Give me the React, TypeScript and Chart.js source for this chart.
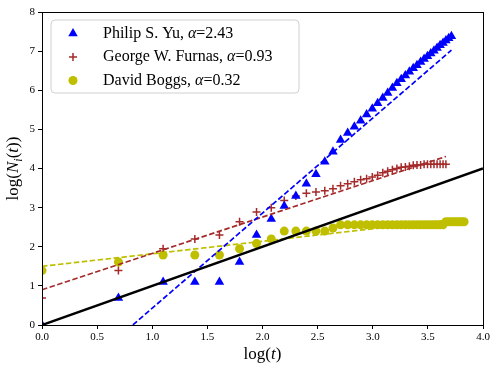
import React, { useEffect, useRef } from "react";
import { Chart, registerables } from "chart.js";
Chart.register(...registerables);

// ---- data ----
const yuT = [1,2,3,4,5,6,7,8,9,10,11,12,13,14,15,16,17,18,19,20,21,22,23,24,25,26,27,28,29,30,31,32,33,34,35,36,37,38,39,40,41];
const yuLogN = [0,0.69,1.10,1.10,1.10,1.61,2.30,2.71,3.04,3.30,3.61,3.85,4.17,4.43,4.73,4.91,5.07,5.22,5.38,5.53,5.67,5.80,5.93,6.06,6.18,6.28,6.38,6.47,6.56,6.64,6.72,6.80,6.87,6.94,7.01,7.08,7.15,7.21,7.27,7.33,7.38];

const furnasT = [1,2,3,4,5,6,7,8,9,10,11,12,13,14,15,16,17,18,19,20,21,22,23,24,25,26,27,28,29,30,31,32,33,34,35,36,37,38,39];
const furnasLogN = [0.69,1.39,1.95,2.20,2.30,2.64,2.89,3.00,3.18,3.30,3.37,3.40,3.43,3.48,3.56,3.61,3.66,3.71,3.74,3.78,3.83,3.89,3.93,3.97,4.00,4.03,4.04,4.06,4.08,4.09,4.09,4.11,4.11,4.11,4.11,4.11,4.11,4.11,4.11];

const boggsT = [1,2,3,4,5,6,7,8,9,10,11,12,13,14,15,16,17,18,19,20,21,22,23,24,25,26,27,28,29,30,31,32,33,34,35,36,37,38,39,40,41,42,43,44,45,46];
const boggsLogN = [1.39,1.61,1.79,1.79,1.79,1.95,2.08,2.20,2.40,2.40,2.40,2.40,2.40,2.48,2.56,2.56,2.56,2.56,2.56,2.56,2.56,2.56,2.56,2.56,2.56,2.56,2.56,2.56,2.56,2.56,2.56,2.56,2.56,2.56,2.56,2.56,2.56,2.56,2.64,2.64,2.64,2.64,2.64,2.64,2.64,2.64];

const seriesNames = ["Philip S. Yu, ", "George W. Furnas, ", "David Boggs, "];
const alphas = [2.43, 0.93, 0.32];
const fitIntercepts = [-2.0, 0.9, 1.5];
const colors = ["#0000ff", "#a52a2a", "#bfbf00"];
const markerStyles = ["triangle", "cross", "circle"];

const xTicks = [0, 0.5, 1.0, 1.5, 2.0, 2.5, 3.0, 3.5, 4.0];
const yTicks = [0, 1, 2, 3, 4, 5, 6, 7, 8];

const FONT = "'Liberation Serif', 'DejaVu Serif', serif";

type Seg = { t: string; it?: boolean; sub?: boolean };

function drawRich(ctx: CanvasRenderingContext2D, segs: Seg[], x: number, y: number, size: number, align: "left" | "center") {
  const fontOf = (s: Seg) => `${s.it ? "italic " : ""}${s.sub ? Math.round(size * 0.7) : size}px ${FONT}`;
  let total = 0;
  for (const s of segs) { ctx.font = fontOf(s); total += ctx.measureText(s.t).width; }
  let cx = align === "center" ? x - total / 2 : x;
  ctx.textBaseline = "middle";
  ctx.textAlign = "left";
  for (const s of segs) {
    ctx.font = fontOf(s);
    ctx.fillText(s.t, cx, s.sub ? y + size * 0.28 : y);
    cx += ctx.measureText(s.t).width;
  }
}

function drawMarker(ctx: CanvasRenderingContext2D, style: string, x: number, y: number, color: string) {
  ctx.save();
  ctx.fillStyle = color;
  ctx.strokeStyle = color;
  if (style === "triangle") {
    const r = 5.5;
    ctx.beginPath();
    ctx.moveTo(x, y - r);
    ctx.lineTo(x + r * Math.sin((2 * Math.PI) / 3), y - r * Math.cos((2 * Math.PI) / 3));
    ctx.lineTo(x + r * Math.sin((4 * Math.PI) / 3), y - r * Math.cos((4 * Math.PI) / 3));
    ctx.closePath();
    ctx.fill();
  } else if (style === "cross") {
    const r = 4;
    ctx.lineWidth = 1.5;
    ctx.beginPath();
    ctx.moveTo(x - r, y); ctx.lineTo(x + r, y);
    ctx.moveTo(x, y - r); ctx.lineTo(x, y + r);
    ctx.stroke();
  } else {
    ctx.beginPath();
    ctx.arc(x, y, 4.5, 0, Math.PI * 2);
    ctx.fill();
  }
  ctx.restore();
}

const decorPlugin = {
  id: "decor",
  afterDraw(chart: any) {
    const ctx: CanvasRenderingContext2D = chart.ctx;
    const a = chart.chartArea;
    ctx.save();
    // frame
    ctx.strokeStyle = "#000";
    ctx.lineWidth = 1;
    ctx.strokeRect(Math.round(a.left) + 0.5, Math.round(a.top) + 0.5, Math.round(a.right - a.left), Math.round(a.bottom - a.top));
    // legend box
    const lx = 51, ly = 20, lw = 248, lh = 73, rr = 4;
    ctx.beginPath();
    ctx.moveTo(lx + rr, ly);
    ctx.arcTo(lx + lw, ly, lx + lw, ly + lh, rr);
    ctx.arcTo(lx + lw, ly + lh, lx, ly + lh, rr);
    ctx.arcTo(lx, ly + lh, lx, ly, rr);
    ctx.arcTo(lx, ly, lx + lw, ly, rr);
    ctx.closePath();
    ctx.fillStyle = "rgba(255,255,255,0.85)";
    ctx.fill();
    ctx.strokeStyle = "#d0d0d0";
    ctx.lineWidth = 1;
    ctx.stroke();
    const rows = [33.5, 57, 80.5];
    ctx.fillStyle = "#000";
    for (let i = 0; i < 3; i++) {
      drawMarker(ctx, markerStyles[i], 73, rows[i], colors[i]);
      ctx.fillStyle = "#000";
      drawRich(ctx, [{ t: seriesNames[i] }, { t: "α", it: true }, { t: "=" + alphas[i].toFixed(2) }], 103, rows[i], 16, "left");
    }
    // axis titles
    ctx.fillStyle = "#000";
    drawRich(ctx, [{ t: "log(" }, { t: "t", it: true }, { t: ")" }], (a.left + a.right) / 2, 355, 17, "center");
    ctx.save();
    ctx.translate(14, (a.top + a.bottom) / 2);
    ctx.rotate(-Math.PI / 2);
    drawRich(ctx, [{ t: "log(" }, { t: "N", it: true }, { t: "i", it: true, sub: true }, { t: "(" }, { t: "t", it: true }, { t: "))" }], 0, 0, 17, "center");
    ctx.restore();
    ctx.restore();
  },
};

export default function App() {
  const ref = useRef<HTMLCanvasElement | null>(null);
  useEffect(() => {
    if (!ref.current) return;
    const ts = [yuT, furnasT, boggsT];
    const ys = [yuLogN, furnasLogN, boggsLogN];
    const scatter = ts.map((t, i) => ({
      type: "scatter" as const,
      label: seriesNames[i],
      data: t.map((tv, j) => ({ x: Math.log(tv), y: ys[i][j] })),
      pointStyle: markerStyles[i],
      pointRadius: i === 0 ? 5.5 : i === 1 ? 4 : 4.5,
      pointBackgroundColor: colors[i],
      pointBorderColor: colors[i],
      pointBorderWidth: i === 1 ? 1.5 : 0,
      showLine: false,
      clip: 0,
      order: 2,
    }));
    const fits = ts.map((t, i) => {
      const x0 = 0;
      const x1 = Math.log(t[t.length - 1]);
      return {
        type: "line" as const,
        label: "fit" + i,
        data: [
          { x: x0, y: alphas[i] * x0 + fitIntercepts[i] },
          { x: x1, y: alphas[i] * x1 + fitIntercepts[i] },
        ],
        borderColor: colors[i],
        borderWidth: 1.7,
        borderDash: [5.5, 2.5],
        pointRadius: 0,
        fill: false,
        clip: 0,
        order: 1,
      };
    });
    const refLine = {
      type: "line" as const,
      label: "y=x",
      data: [{ x: 0, y: 0 }, { x: 4, y: 4 }],
      borderColor: "#000",
      borderWidth: 2.5,
      pointRadius: 0,
      fill: false,
      clip: 0,
      order: 0,
    };
    const tickFont = { family: FONT, size: 11 };
    const chart = new Chart(ref.current, {
      type: "scatter",
      data: { datasets: [refLine, ...fits, ...scatter] as any },
      options: {
        responsive: false,
        animation: false,
        layout: { padding: { top: 12, right: 15, left: 0, bottom: 0 } },
        plugins: { legend: { display: false }, tooltip: { enabled: false } },
        scales: {
          x: {
            type: "linear",
            min: 0,
            max: 4,
            afterFit: (s: any) => { s.height = 47; },
            afterBuildTicks: (s: any) => { s.ticks = xTicks.map((v) => ({ value: v })); },
            ticks: { font: tickFont, color: "#000", padding: 2, callback: (v: any) => Number(v).toFixed(1), maxRotation: 0, autoSkip: false },
            grid: { display: true, drawOnChartArea: false, drawTicks: true, tickLength: 4, tickColor: "#000", tickWidth: 1 },
            border: { display: true, color: "#000", width: 1 },
          },
          y: {
            type: "linear",
            min: 0,
            max: 8,
            afterFit: (s: any) => { s.width = 42; },
            afterBuildTicks: (s: any) => { s.ticks = yTicks.map((v) => ({ value: v })); },
            ticks: { font: tickFont, color: "#000", padding: 3, callback: (v: any) => String(v), autoSkip: false },
            grid: { display: true, drawOnChartArea: false, drawTicks: true, tickLength: 4, tickColor: "#000", tickWidth: 1 },
            border: { display: true, color: "#000", width: 1 },
          },
        },
      },
      plugins: [decorPlugin],
    });
    return () => chart.destroy();
  }, []);
  return (
    <div style={{ position: "fixed", left: 0, top: 0, width: 498, height: 372, background: "#fff" }}>
      <canvas ref={ref} width={498} height={372} style={{ width: 498, height: 372, display: "block" }} />
    </div>
  );
}
